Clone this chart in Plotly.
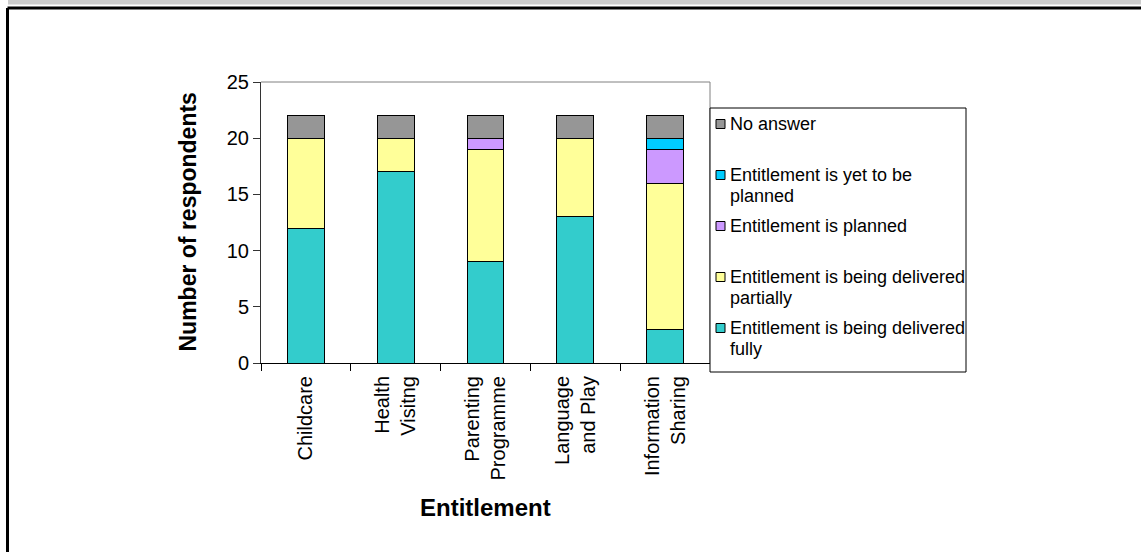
import plotly.graph_objects as go

categories = ["Childcare", "Health<br>Visitng", "Parenting<br>Programme", "Language<br>and Play", "Information<br>Sharing"]
fully = [12, 17, 9, 13, 3]
partially = [8, 3, 10, 7, 13]
planned = [0, 0, 1, 0, 3]
yet_to_plan = [0, 0, 0, 0, 1]
no_answer = [2, 2, 2, 2, 2]

series_names = [
    "Entitlement is being delivered fully",
    "Entitlement is being delivered partially",
    "Entitlement is planned",
    "Entitlement is yet to be planned",
    "No answer",
]
# legend labels (line-wrapped as in the original legend), listed top to bottom
legend_labels = [
    "No answer",
    "Entitlement is yet to be<br>planned",
    "Entitlement is planned",
    "Entitlement is being delivered<br>partially",
    "Entitlement is being delivered<br>fully",
]
series_values = [fully, partially, planned, yet_to_plan, no_answer]
series_colors = ["#33CCCC", "#FFFF99", "#CC99FF", "#00CCFF", "#969696"]

FONT = "Arial, Liberation Sans, sans-serif"

fig = go.Figure()
for name, vals, col in zip(series_names, series_values, series_colors):
    fig.add_trace(go.Bar(
        x=categories, y=vals, name=name, showlegend=False,
        marker=dict(color=col, line=dict(color="black", width=1)),
    ))

W, H = 1141, 552
L, R, T, B = 261, 710, 82, 363
pw, ph = R - L, B - T

def px(x):
    return (x - L) / pw

def py(y):
    return (B - y) / ph

shapes = [
    dict(type="rect", xref="paper", yref="paper", x0=px(8), x1=px(1141), y0=py(0), y1=py(4.5),
         fillcolor="#CCCCCC", line=dict(width=0), layer="below"),
    dict(type="line", xref="paper", yref="paper", x0=px(7.5), x1=px(1141), y0=py(8), y1=py(8),
         line=dict(color="black", width=3)),
    dict(type="line", xref="paper", yref="paper", x0=px(7.5), x1=px(7.5), y0=py(8), y1=py(552),
         line=dict(color="black", width=3)),
    dict(type="line", xref="paper", yref="paper", x0=0, x1=1, y0=1, y1=1,
         line=dict(color="#808080", width=1)),
    dict(type="line", xref="paper", yref="paper", x0=1, x1=1, y0=0, y1=1,
         line=dict(color="#808080", width=1)),
    # legend box
    dict(type="rect", xref="paper", yref="paper", x0=px(710), x1=px(966), y0=py(108), y1=py(372),
         fillcolor="white", line=dict(color="black", width=1)),
]

annotations = [
    dict(text="<b>Number of respondents</b>", xref="paper", yref="paper",
         x=px(187), y=0.5, textangle=-90, showarrow=False,
         font=dict(size=23, family=FONT, color="black"), xanchor="center", yanchor="middle"),
    dict(text="<b>Entitlement</b>", xref="paper", yref="paper",
         x=0.5, y=py(507), showarrow=False,
         font=dict(size=24, family=FONT, color="black"), xanchor="center", yanchor="middle"),
]

# manual legend entries (top to bottom)
legend_colors = list(reversed(series_colors))
for i, (lab, col) in enumerate(zip(legend_labels, legend_colors)):
    center = 124 + 51 * i
    shapes.append(dict(type="rect", xref="paper", yref="paper",
                       x0=px(716), x1=px(725), y0=py(center - 4.5), y1=py(center + 4.5),
                       fillcolor=col, line=dict(color="black", width=1)))
    for j, line in enumerate(lab.split("<br>")):
        annotations.append(dict(text=line, xref="paper", yref="paper", x=px(728), y=py(center + 21 * j),
                                xanchor="left", yanchor="middle", align="left", showarrow=False,
                                font=dict(size=18, family=FONT, color="black")))

fig.update_layout(
    width=W, height=H,
    margin=dict(l=L, r=W - R, t=T, b=H - B, autoexpand=False),
    paper_bgcolor="white", plot_bgcolor="white",
    barmode="stack", bargap=0.59,
    font=dict(family=FONT, size=20, color="black"),
    showlegend=False,
    xaxis=dict(
        showline=True, linecolor="black", linewidth=1,
        ticks="outside", tickson="boundaries", ticklen=7, tickcolor="black",
        tickangle=-90, tickfont=dict(size=20), showgrid=False, fixedrange=True,
        ticklabelstandoff=4,
    ),
    yaxis=dict(
        range=[0, 25], dtick=5, showline=True, linecolor="#333333", linewidth=1,
        ticks="outside", ticklen=7, tickcolor="#333333", showgrid=False,
        zeroline=False, tickfont=dict(size=20), fixedrange=True,
    ),
    shapes=shapes,
    annotations=annotations,
)

fig.write_html("out.html")
